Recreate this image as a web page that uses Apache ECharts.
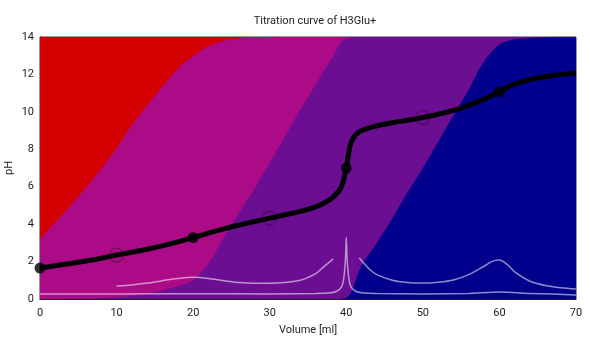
<!DOCTYPE html>
<html lang="en">
  <head>
    <meta charset="UTF-8" />
    <title>Titration curve of H3Glu+</title>
    <script src="https://cdn.jsdelivr.net/npm/echarts@6/dist/echarts.min.js"></script>
  </head>
  <body style="margin: 0">
    <div id="main" style="width: 590px; height: 337px"></div>
    <script type="text/javascript">
      // Volumes for the species distribution (ml)
      const volumes = [0, 2, 4, 6, 8, 10, 12, 14, 16, 18, 20, 22, 24, 26, 28, 30, 32, 34,
        36, 38, 40, 42, 44, 46, 48, 50, 52, 54, 56, 58, 60, 62, 64, 66, 68, 70];

      // Species fractions in %
      const fracGlu = [0, 0, 0, 0, 0, 0, 0, 0, 0, 0, 0, 0, 0, 0, 0, 0, 0, 0,
        0, 0, 0.4, 12.9, 21.4, 30.7, 40.7, 50.0, 60.0, 70.0, 80.0, 90.7, 97.1, 99.1, 99.6, 99.8, 99.9, 99.9];
      const fracHGlu = [0, 0, 0.1, 0.1, 0.4, 0.7, 1.1, 2.1, 3.2, 5.0, 7.1, 13.6, 23.6, 32.9, 42.1, 52.1, 62.1, 72.1,
        81.8, 91.4, 99.2, 87.1, 78.6, 69.3, 59.3, 50.0, 40.0, 30.0, 20.0, 9.3, 2.9, 0.9, 0.4, 0.2, 0.1, 0.1];
      const fracH2Glu = [22.9, 29.3, 35.6, 42.4, 49.3, 56.8, 65.4, 71.8, 77.9, 82.9, 85.7, 82.9, 75.0, 66.6, 57.6, 47.8, 37.9, 27.9,
        18.2, 8.6, 0.4, 0, 0, 0, 0, 0, 0, 0, 0, 0, 0, 0, 0, 0, 0, 0];
      const fracH3Glu = [77.1, 70.7, 64.3, 57.5, 50.3, 42.5, 33.5, 26.1, 18.9, 12.1, 7.2, 3.5, 1.4, 0.5, 0.3, 0.1, 0, 0,
        0, 0, 0, 0, 0, 0, 0, 0, 0, 0, 0, 0, 0, 0, 0, 0, 0, 0];

      // Titration curve
      const phVolumes = [0, 2, 4, 6, 8, 10, 12, 14, 16, 18, 20, 22, 24, 26, 28, 30, 32, 34, 36, 37, 38, 39,
        39.5, 40, 40.5, 41, 41.5, 42, 43, 44, 46, 48, 50, 52, 54, 56, 58, 60, 62, 64, 66, 68, 70];
      const phValues = [1.65, 1.78, 1.9, 2.03, 2.18, 2.35, 2.5, 2.66, 2.84, 3.05, 3.28, 3.52, 3.75, 3.95, 4.14, 4.32, 4.5, 4.68, 4.92, 5.1, 5.36, 5.75,
        6.15, 7.0, 8.2, 8.65, 8.88, 9.0, 9.15, 9.26, 9.42, 9.55, 9.7, 9.87, 10.08, 10.35, 10.68, 11.08, 11.48, 11.72, 11.88, 11.99, 12.08];

      // Equivalence points (filled) and half-equivalence points (open)
      const eqVolumes = [0, 20, 40, 60];
      const eqPh = [1.65, 3.28, 7.0, 11.08];
      const halfVolumes = [10, 30, 50];
      const halfPh = [2.35, 4.32, 9.7];

      // Light curves near the bottom
      const lowVolumes = [0, 10, 20, 30, 36, 38, 38.7, 39.4, 39.7, 39.9, 40, 40.1, 40.3, 40.6, 41.3, 42, 44, 50, 56, 60, 64, 70];
      const lowValues = [0.27, 0.27, 0.28, 0.27, 0.3, 0.34, 0.4, 0.66, 1.2, 2.2, 3.3, 2.2, 1.2, 0.66, 0.4, 0.34, 0.3, 0.27, 0.3, 0.37, 0.3, 0.22];
      const upVolumes = [10, 12, 14, 16, 18, 20, 22, 24, 26, 28, 30, 32, 34, 35, 36, 37, 38.3, 40,
        41.7, 43, 44, 46, 48, 50, 52, 54, 56, 58, 59, 60, 61, 62, 64, 66, 68, 70];
      const upValues = [0.69, 0.75, 0.85, 0.98, 1.1, 1.16, 1.1, 0.98, 0.88, 0.84, 0.84, 0.88, 1.0, 1.15, 1.35, 1.7, 2.14, '-',
        2.19, 1.6, 1.3, 1.0, 0.88, 0.85, 0.9, 1.02, 1.3, 1.75, 2.0, 2.08, 1.85, 1.45, 0.95, 0.72, 0.6, 0.53];

      const pairs = (xs, ys) => xs.map((x, i) => [x, ys[i]]);

      // Fractions are shown scaled onto the 0-14 pH axis, bands stacked from the bottom.
      const bands = [
        { name: "Glu2-", frac: fracGlu, color: "#00008c" },
        { name: "HGlu-", frac: fracHGlu, color: "#6b0e91" },
        { name: "H2Glu", frac: fracH2Glu, color: "#ab0b87" },
        { name: "H3Glu+", frac: fracH3Glu, color: "#d40000" },
      ];
      let running = volumes.map(() => 0);
      const areaSeries = bands.map((b) => {
        running = running.map((v, i) => v + b.frac[i] * 0.14);
        return {
          name: b.name,
          type: "line",
          data: pairs(volumes, running),
          symbol: "none",
          smooth: 0.3,
          lineStyle: { width: 0 },
          areaStyle: { color: b.color, opacity: 1, origin: "start" },
          z: 1,
        };
      }).reverse(); // topmost band first so the lower bands cover it

      let myChart = echarts.init(document.getElementById("main"));

      let options = {
        animation: false,
        textStyle: { fontFamily: "Roboto, sans-serif" },
        title: {
          text: "Titration curve of H3Glu+",
          left: 310,
          top: 11,
          textAlign: "center",
          textStyle: { fontSize: 11, fontWeight: "normal", color: "#222" },
        },
        grid: {
          left: 40,
          right: 14,
          top: 37,
          bottom: 38,
          outerBoundsMode: "none",
          containLabel: false,
          show: true,
          borderColor: "#333",
          borderWidth: 1,
        },
        xAxis: {
          type: "value",
          min: 0,
          max: 70,
          interval: 10,
          name: "Volume [ml]",
          nameLocation: "middle",
          nameGap: 26,
          nameTextStyle: { fontSize: 11, color: "#222" },
          axisLine: { lineStyle: { color: "#222" } },
          axisTick: { show: false },
          axisLabel: { fontSize: 11, color: "#222", margin: 9 },
          splitLine: { show: false },
        },
        yAxis: {
          type: "value",
          min: 0,
          max: 14,
          interval: 2,
          name: "pH",
          nameLocation: "middle",
          nameGap: 25,
          nameMoveOverlap: false,
          nameTextStyle: { fontSize: 11, color: "#222" },
          axisLine: { show: true, lineStyle: { color: "#222" } },
          axisTick: { show: false },
          axisLabel: { fontSize: 11, color: "#222", margin: 6 },
          splitLine: { show: false },
        },
        series: [
          ...areaSeries,
          {
            type: "line",
            data: pairs(lowVolumes, lowValues),
            symbol: "none",
            smooth: 0.2,
            lineStyle: { color: "rgba(255,255,255,0.55)", width: 1.5 },
            z: 3,
          },
          {
            type: "line",
            data: pairs(upVolumes, upValues),
            symbol: "none",
            smooth: 0.3,
            connectNulls: false,
            lineStyle: { color: "rgba(255,255,255,0.55)", width: 1.5 },
            z: 3,
          },
          {
            type: "line",
            data: pairs(phVolumes, phValues),
            symbol: "none",
            smooth: 0.3,
            lineStyle: { color: "#000", width: 5 },
            z: 4,
          },
          {
            type: "scatter",
            data: pairs(eqVolumes, eqPh),
            symbolSize: 11,
            itemStyle: { color: "#000" },
            clip: false,
            z: 5,
          },
          {
            type: "scatter",
            data: pairs(halfVolumes, halfPh),
            symbolSize: 14,
            itemStyle: { color: "rgba(0,0,0,0)", borderColor: "rgba(40,0,40,0.7)", borderWidth: 1 },
            z: 5,
          },
        ],
      };

      myChart.setOption(options);
    </script>
  </body>
</html>
